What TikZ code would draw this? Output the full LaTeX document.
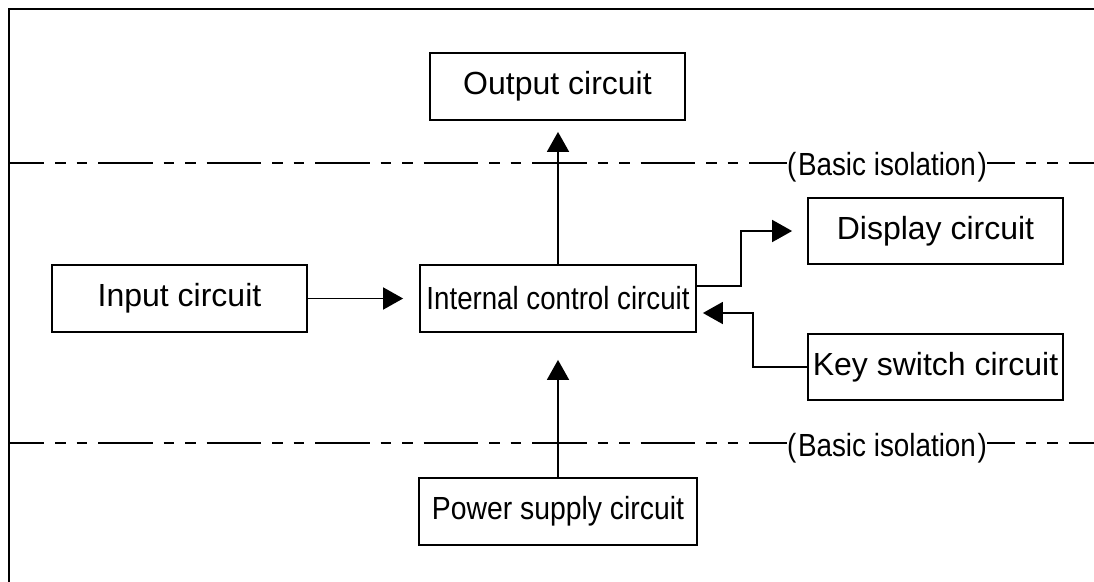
\documentclass[tikz,border=0pt]{standalone}
\usepackage{fontspec}
\setmainfont{Liberation Sans}
\usetikzlibrary{arrows.meta}
\begin{document}
\begin{tikzpicture}[x=1pt,y=-1pt,
  box/.style={draw,line width=1.8pt,inner sep=0pt,minimum height=67pt,align=center,
    font=\fontsize{32}{38}\selectfont},
  lbl/.style={inner sep=0pt,font=\fontsize{32}{38}\selectfont},
  arr/.style={line width=1.8pt,-{Triangle[length=20pt,width=22pt]}},
  iso/.style={line width=1.8pt,dash pattern=on 54.5pt off 11pt on 10.5pt off 11pt on 10.5pt off 11pt},
  frame/.style={line width=2.2pt}]
\useasboundingbox (0,0) rectangle (1094,581);
% frame
\coordinate (fb) at (9,582);
\coordinate (ftl) at (9,9);
\coordinate (ftr) at (1094,9);
\draw[frame] (fb) -- (ftl) -- (ftr);
% boxes
\node[box,minimum width=255pt] (out) at (557.5,86.5) {Output circuit};
\node[box,minimum width=255pt,minimum height=66pt] (disp) at (935.5,231) {Display circuit};
\node[box,minimum width=255pt] (inp) at (179.5,298.5) {Input circuit};
\node[box,minimum width=276pt] (ctl) at (558,298.5) {\scalebox{0.865}[1]{Internal control circuit}};
\node[box,minimum width=255pt,minimum height=66pt] (key) at (935.5,367) {Key switch circuit};
\node[box,minimum width=278pt] (pwr) at (558,511.5) {\scalebox{0.886}[1]{Power supply circuit}};
% isolation lines
\node[lbl] (iso1) at (887,167) {\scalebox{0.87}[1]{(\kern2pt Basic isolation\kern2pt)}};
\node[lbl] (iso2) at (887,448) {\scalebox{0.87}[1]{(\kern2pt Basic isolation\kern2pt)}};
\coordinate (l1a) at (9,163);
\coordinate (l1b) at (1094,163);
\coordinate (l2a) at (9,443);
\coordinate (l2b) at (1094,443);
\draw[iso,dash phase=19.5pt] (l1a) -- (iso1.west |- l1a);
\draw[iso,dash phase=27pt] (iso1.east |- l1b) -- (l1b);
\draw[iso,dash phase=19.5pt] (l2a) -- (iso2.west |- l2a);
\draw[iso,dash phase=27pt] (iso2.east |- l2b) -- (l2b);
% connectors
\draw[arr,shorten >=11pt] (ctl.north) -- (ctl.north |- out.south);
\draw[arr,shorten >=16pt] (inp.east) -- (inp.east -| ctl.west);
\draw[arr] ([yshift=12.5pt]ctl.east) -- ++(44,0) |- ([xshift=-15pt]disp.west);
\draw[arr] (key.west) -- ++(-54,0) |- ([xshift=6pt,yshift=-14.5pt]ctl.east);
\draw[arr,shorten >=27pt] (pwr.north) -- (pwr.north |- ctl.south);
\end{tikzpicture}
\end{document}
